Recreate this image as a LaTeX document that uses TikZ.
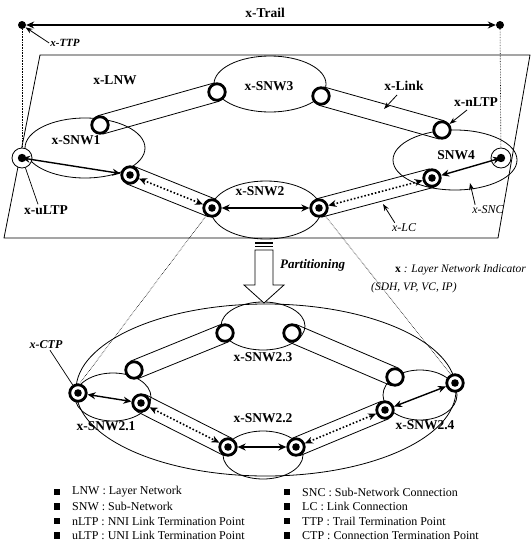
\documentclass[tikz,border=0pt]{standalone}
\usepackage{fontspec}
\setmainfont{Liberation Serif}
\usetikzlibrary{arrows.meta,calc}
\pgfdeclarelayer{bg}
\pgfsetlayers{bg,main}
\tikzset{
  ring/.style={circle, draw, line width=2.8pt, fill=white, minimum size=16.5pt, inner sep=0pt},
  ctp/.style={ring, path picture={\fill[black] (path picture bounding box.center) circle (3.8pt);}},
  ultp/.style={circle, draw, line width=0.8pt, fill=white, minimum size=20pt, inner sep=0pt, path picture={\fill[black] (path picture bounding box.center) circle (4.2pt);}},
  blackdot/.style={circle, fill, minimum size=8pt, inner sep=0pt},
  snw/.style={draw, line width=0.8pt},
  tubeline/.style={line width=0.8pt},
  heavy/.style={line width=1.4pt, {Stealth[length=8pt,width=7pt]}-{Stealth[length=8pt,width=7pt]}},
  lcarrow/.style={line width=1.6pt, dotted, {Stealth[length=8pt,width=7pt]}-{Stealth[length=8pt,width=7pt]}},
  pointer/.style={line width=0.8pt, -{Stealth[length=7pt,width=5pt]}},
  plainptr/.style={line width=0.7pt},
  lbl/.style={font=\fontsize{13.5}{15}\selectfont\bfseries, inner sep=1pt},
  legtxt/.style={font=\fontsize{12}{13}\selectfont, anchor=west, inner sep=0pt},
  legsq/.style={fill, minimum size=6.5pt, inner sep=0pt},
  guide/.style={line width=0.6pt, densely dotted},
}
\newcommand\tubeAB[2]{\draw[tubeline] ($(#1.center)!9.5pt!90:(#2.center)$) -- ($(#2.center)!9.5pt!-90:(#1.center)$) ($(#1.center)!9.5pt!-90:(#2.center)$) -- ($(#2.center)!9.5pt!90:(#1.center)$);}
\begin{document}
\begin{tikzpicture}[x=1pt,y=-1pt]
\useasboundingbox (0,0) rectangle (532,546);

% ---------- trail ----------
\node[blackdot] (TL) at (22,25) {};
\node[blackdot] (TR) at (500,25) {};
\draw[heavy, line width=1.2pt] (TL) -- (TR);
\node[lbl] (ttrail) at (265,13) {x-Trail};
\node[font=\fontsize{11}{13}\selectfont\bfseries\itshape, inner sep=1pt] (tttp) at (65,43) {x-TTP};
\draw[pointer] (tttp.west) -- (TL);

% ---------- upper layer network ----------
\node[ultp] (uL) at (22,158) {};
\node[ultp] (uR) at (501,158) {};
\node[ring] (n1) at (100,125) {};
\node[ring] (n3a) at (217,92) {};
\node[ring] (n3b) at (321,96) {};
\node[ring] (n4) at (442,130) {};
\node[ctp] (c1) at (130,175) {};
\node[ctp] (c2a) at (212,208) {};
\node[ctp] (c2b) at (319,208) {};
\node[ctp] (c4) at (432,178) {};

\begin{pgfonlayer}{bg}
\draw[line width=0.8pt] (40,55) -- (530,55) -- (498,238) -- (4,238) -- cycle;
\draw[guide] (TL) -- (uL);
\draw[guide] (TR) -- (uR);
\draw[snw] (85,148) ellipse [x radius=60, y radius=30];
\draw[snw] (270,84) ellipse [x radius=56, y radius=28];
\draw[snw] (266,210) ellipse [x radius=55, y radius=29];
\draw[snw] (455,160) ellipse [x radius=62, y radius=30];
\tubeAB{n1}{n3a}
\tubeAB{n3b}{n4}
\tubeAB{c1}{c2a}
\tubeAB{c2b}{c4}
\end{pgfonlayer}

\draw[heavy] (uL.center) -- (c1);
\draw[heavy] (c2a) -- (c2b);
\draw[heavy] (c4) -- (uR.center);
\draw[lcarrow] (c1) -- (c2a);
\draw[lcarrow] (c2b) -- (c4);

\node[lbl] (tlnw) at (115,80) {x-LNW};
\node[lbl] (tsnw3) at (269,86) {x-SNW3};
\node[lbl] (tsnw1) at (76,140) {x-SNW1};
\node[lbl] (tsnw2) at (260,191) {x-SNW2};
\node[lbl] (tsnw4) at (456,155) {SNW4};
\node[lbl] (tlink) at (404,86) {x-Link};
\node[lbl] (tnltp) at (476,102) {x-nLTP};
\node[lbl] (tultp) at (46,210) {x-uLTP};
\node[font=\fontsize{12}{14}\selectfont\itshape, inner sep=1pt] (tlc) at (404,228) {x-LC};
\node[font=\fontsize{12}{14}\selectfont\itshape, inner sep=1pt] (tsnc) at (488,210) {x-SNC};
\draw[pointer] (397,95) -- (384,109);
\draw[pointer] (467,110) -- (n4);
\draw[plainptr] (tultp.north) ++(-8,0) -- (uL);
\draw[pointer] (tlc.north west) ++(4,0) -- (383,204);
\draw[pointer] (tsnc.north west) ++(4,0) -- (470,183);

% ---------- partitioning ----------
\draw[line width=0.8pt, fill=white] (255,250) -- (273,250) -- (273,285) -- (284,285) -- (264,303) -- (244,285) -- (255,285) -- cycle;
\draw[line width=1.2pt] (255,243) -- (273,243) (255,246.5) -- (273,246.5);
\node[font=\fontsize{13}{15}\selectfont\bfseries\itshape, anchor=west, inner sep=0pt] (tpart) at (280,265) {Partitioning};
\node[font=\fontsize{11.5}{13}\selectfont\itshape, anchor=west, inner sep=0pt] (tind) at (395,270) {\textbf{\upshape x} : Layer Network Indicator};
\node[font=\fontsize{11.5}{13}\selectfont\itshape, anchor=west, inner sep=0pt] (tind2) at (371,288) {(SDH, VP, VC, IP)};

% ---------- lower (partitioned SNW2) ----------
\node[ring] (n21) at (134,370) {};
\node[ctp] (c21a) at (78,393) {};
\node[ctp] (c21b) at (141,403) {};
\node[ring] (n23a) at (225,333) {};
\node[ring] (n23b) at (292,333) {};
\node[ctp] (c22a) at (228,447) {};
\node[ctp] (c22b) at (296,447) {};
\node[ring] (n24) at (395,377) {};
\node[ctp] (c24a) at (385,410) {};
\node[ctp] (c24b) at (455,383) {};

\begin{pgfonlayer}{bg}
\draw[guide] (c2a) -- (80,383);
\draw[guide] (c2b) -- (452,376);
\draw[snw] (266,390) ellipse [x radius=190, y radius=86];
\draw[snw] (263,326) ellipse [x radius=42, y radius=24];
\draw[snw] (113,397) ellipse [x radius=38, y radius=24];
\draw[snw] (263,455) ellipse [x radius=40, y radius=24];
\draw[snw] (420,395) ellipse [x radius=37, y radius=25];
\tubeAB{n21}{n23a}
\tubeAB{n23b}{n24}
\tubeAB{c21b}{c22a}
\tubeAB{c22b}{c24a}
\end{pgfonlayer}

\draw[heavy] (c21a) -- (c21b);
\draw[heavy] (c22a) -- (c22b);
\draw[heavy] (c24a) -- (c24b);
\draw[lcarrow] (c21b) -- (c22a);
\draw[lcarrow] (c22b) -- (c24a);

\node[lbl] (tsnw23) at (263,357) {x-SNW2.3};
\node[lbl] (tsnw21) at (106,426) {x-SNW2.1};
\node[lbl] (tsnw22) at (263,418) {x-SNW2.2};
\node[lbl] (tsnw24) at (425,425) {x-SNW2.4};
\node[font=\fontsize{12}{14}\selectfont\bfseries\itshape, inner sep=1pt] (tctp) at (46,345) {x-CTP};
\draw[plainptr] (tctp.south) ++(4,0) -- (c21a);

% ---------- legend ----------
\foreach \i/\y/\t in {1/492/{LNW : Layer Network}, 2/506.5/{SNW : Sub-Network}, 3/521/{nLTP : NNI Link Termination Point}, 4/535.5/{uLTP : UNI Link Termination Point}}{
  \node[legsq] (lsq\i) at (57,\y) {};
  \node[legtxt] (ltx\i) at (72,\y) {\t};
}
\foreach \i/\y/\t in {5/492/{SNC : Sub-Network Connection}, 6/506.5/{LC : Link Connection}, 7/521/{TTP : Trail Termination Point}, 8/535.5/{CTP : Connection Termination Point}}{
  \node[legsq] (lsq\i) at (287,\y) {};
  \node[legtxt] (ltx\i) at (302,\y) {\t};
}
\end{tikzpicture}
\end{document}
